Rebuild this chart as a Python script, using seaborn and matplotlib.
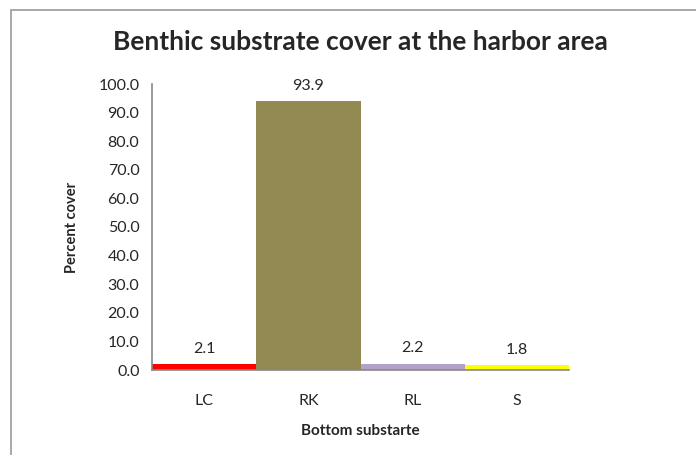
import pandas as pd
import seaborn as sns
import matplotlib.pyplot as plt
from matplotlib.patches import Rectangle
from matplotlib.ticker import FormatStrFormatter

# data
substrates = ['LC', 'RK', 'RL', 'S']
cover = [2.1, 93.9, 2.2, 1.8]
bar_colors = ['#FF0000', '#938953', '#B3A2C7', '#FFFF00']

df = pd.DataFrame({'Bottom substarte': substrates, 'Percent cover': cover})

sns.set_style('white')
plt.rcParams['font.family'] = ['Lato', 'DejaVu Sans']

fig = plt.figure(figsize=(6.96, 4.55), dpi=100)
ax = fig.add_axes([152 / 696, 1 - 370 / 455, 417 / 696, 286 / 455])

sns.barplot(data=df, x='Bottom substarte', y='Percent cover', hue='Bottom substarte',
            palette=bar_colors, width=1.0, legend=False, ax=ax, saturation=1,
            linewidth=0)

for c in ax.containers:
    ax.bar_label(c, fmt='%.1f', padding=6, fontsize=11.5)

ax.set_ylim(0, 100)
ax.set_xlim(-0.5, 3.5)
ax.set_yticks(range(0, 101, 10))
ax.yaxis.set_major_formatter(FormatStrFormatter('%.1f'))
ax.tick_params(axis='y', direction='out', length=4, color='#888888', labelsize=11.5, pad=5)
ax.tick_params(axis='x', length=0, labelsize=11.5, pad=17)

for side in ['top', 'right']:
    ax.spines[side].set_visible(False)
for side in ['left', 'bottom']:
    ax.spines[side].set_color('#888888')
    ax.spines[side].set_linewidth(1.2)

ax.set_xlabel('Bottom substarte', fontsize=11, fontweight='bold', labelpad=12)
ax.set_ylabel('Percent cover', fontsize=10.5, fontweight='bold', labelpad=14)
fig.text(360 / 696, 1 - 42 / 455, 'Benthic substrate cover at the harbor area',
         ha='center', va='center', fontsize=19, fontweight='bold')

# chart area border
fig.patches.append(Rectangle((11 / 696, -0.1), 1.2, 1 - 10 / 455 + 0.1,
                             transform=fig.transFigure, fill=False,
                             edgecolor='#999999', linewidth=1.2))

fig.savefig('out.png', dpi=100)
